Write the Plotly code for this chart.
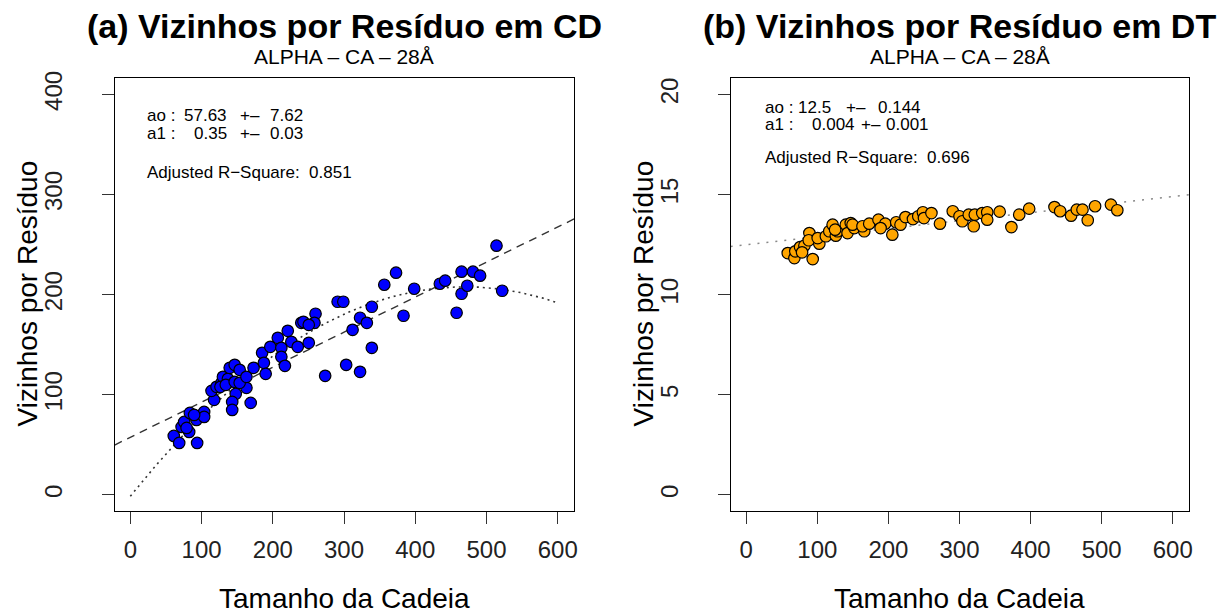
import numpy as np
import plotly.graph_objects as go

# ---------------- data ----------------
# Panel (a): neighbours per residue in CD vs chain length
chain_cd = [61, 68.6, 93.8, 82.6, 72, 75.6, 83.6, 92.9, 103.6, 103.6, 89.6, 79, 117.6, 114, 121,
            128, 130, 137, 126.5, 134, 139.5, 146.5, 153.5, 146.5, 148, 143, 143, 169, 163, 153.5,
            163, 173, 185, 187.5, 190, 196.5, 207, 212, 212, 217, 221, 226, 235, 240, 250.5, 243,
            260, 258.5, 250.5, 273.5, 291, 299, 303, 312, 322.5, 322.5, 332, 339, 339, 356.5, 373,
            383.5, 398.5, 434.5, 442, 458, 465, 465, 473, 481, 491, 514, 522]
neigh_cd = [59, 52, 52, 63, 68, 73, 82, 75, 83, 78, 80, 67, 95, 104, 108,
            112, 118, 116, 108, 110, 127, 130, 125, 113, 101, 93, 85, 92, 107, 112,
            118, 127, 142, 132, 121, 148, 157, 147, 138, 129, 164, 153, 148, 172, 152, 173,
            181, 172, 170, 119, 193, 193, 130, 165, 177, 123, 172, 147, 188, 210, 222,
            179, 206, 211, 214, 182, 223, 201, 209, 223, 219, 249, 204]

# Panel (b): neighbours per residue in DT vs chain length
chain_dt = [58.4, 67.7, 69, 75.7, 81.8, 78.5, 88.8, 93.5, 87.9, 102.8, 100.5, 112, 116.8, 121.5,
            126, 128.5, 125, 140, 142.5, 147, 152, 149.5, 166, 163.5, 173, 186, 195.5, 189, 205.5,
            211, 217, 224, 234.5, 242, 248.5, 250, 260.5, 272.5, 290.5, 300, 304, 313, 320, 321.5,
            332, 339, 339, 356.5, 373, 384, 398, 433.6, 441.6, 457, 465, 473, 480.4, 490.7, 513, 522]
neigh_dt = [12.08, 11.83, 12.17, 12.38, 12.45, 12.12, 13.08, 11.78, 12.72, 12.55, 12.83, 12.92, 13.17, 13.5,
            12.95, 13.17, 13.25, 13.5, 13.08, 13.58, 13.33, 13.5, 13.17, 13.42, 13.55, 13.75, 13.55, 13.33, 13.0,
            13.62, 13.5, 13.88, 13.78, 13.92, 14.12, 13.83, 14.08, 13.55, 14.17, 13.92, 13.67, 14.0, 13.42, 14.0,
            14.08, 14.12, 13.75, 14.15, 13.38, 14.0, 14.3, 14.38, 14.17, 13.95, 14.25, 14.25, 13.72, 14.42, 14.5, 14.22]

# fitted models
lin_cd = [57.63, 0.35]              # ao, a1 (dashed line, panel a)
quad_cd = [-1.2, 0.890, -0.000947]  # quadratic fit (dotted curve, panel a)
lin_dt = [12.5, 0.004]              # ao, a1 (dotted line, panel b)

x_ticks = [0, 100, 200, 300, 400, 500, 600]
y_ticks_cd = [0, 100, 200, 300, 400]
y_ticks_dt = [0, 5, 10, 15, 20]

# ---------------- layout geometry ----------------
OFFX, OFFY, SY = 8, 16.2, 0.986
W, H = 1218, 605
FONT = "Liberation Sans, Arial, Helvetica, sans-serif"
XR = [-22, 623]

def px(x):
    return (x - OFFX) / W

def py(y):
    return 1 - ((y - OFFY) / SY) / H

left_dom = [px(115), px(576)]
right_dom = [px(733), px(1193)]
y_dom = [py(511), py(79.5)]

fig = go.Figure()

# panel a fits
xl = np.linspace(XR[0], XR[1], 200)
fig.add_trace(go.Scatter(x=xl, y=lin_cd[0] + lin_cd[1] * xl, mode="lines",
                         line=dict(color="#333333", width=1.4, dash="8px,6px"),
                         xaxis="x", yaxis="y", hoverinfo="skip"))
xq = np.linspace(0, 600, 300)
fig.add_trace(go.Scatter(x=xq, y=quad_cd[0] + quad_cd[1] * xq + quad_cd[2] * xq ** 2, mode="lines",
                         line=dict(color="#333333", width=1.6, dash="2px,4px"),
                         xaxis="x", yaxis="y", hoverinfo="skip"))
fig.add_trace(go.Scatter(x=chain_cd, y=neigh_cd, mode="markers",
                         marker=dict(color="#0000FF", size=11.5, line=dict(color="black", width=1.2)),
                         xaxis="x", yaxis="y"))

# panel b fit
fig.add_trace(go.Scatter(x=xl, y=lin_dt[0] + lin_dt[1] * xl, mode="lines",
                         line=dict(color="#888888", width=1.5, dash="2px,7px"),
                         xaxis="x2", yaxis="y2", hoverinfo="skip"))
fig.add_trace(go.Scatter(x=chain_dt, y=neigh_dt, mode="markers",
                         marker=dict(color="#FFA500", size=11.5, line=dict(color="black", width=1.2)),
                         xaxis="x2", yaxis="y2"))

axis_common = dict(showgrid=False, zeroline=False, showline=True, linecolor="black", linewidth=1,
                   mirror=True, ticks="outside", ticklen=12, tickwidth=1, tickcolor="#333333",
                   tickfont=dict(family=FONT, size=24, color="#222222"))

fig.update_layout(
    width=W, height=H, showlegend=False,
    paper_bgcolor="white", plot_bgcolor="white",
    margin=dict(l=0, r=0, t=0, b=0),
    xaxis=dict(domain=left_dom, range=XR, tickvals=x_ticks, anchor="y", ticklabelstandoff=5,
               **axis_common),
    yaxis=dict(domain=y_dom, range=[-16, 416], tickvals=y_ticks_cd, tickangle=-90, anchor="x",
               ticklabelstandoff=30, **axis_common),
    xaxis2=dict(domain=right_dom, range=XR, tickvals=x_ticks, anchor="y2", ticklabelstandoff=5,
                **axis_common),
    yaxis2=dict(domain=y_dom, range=[-0.8, 20.8], tickvals=y_ticks_dt, tickangle=-90, anchor="x2",
                ticklabelstandoff=30, **axis_common),
)

ann = []

def text(x, y, s, size, bold=False, xanchor="center", angle=0, color="black"):
    ann.append(dict(xref="paper", yref="paper", x=px(x), y=py(y), text=(f"<b>{s}</b>" if bold else s),
                    showarrow=False, xanchor=xanchor, yanchor="middle", textangle=angle,
                    font=dict(family=FONT, size=size, color=color)))

# titles
text(345.5, 27, "(a) Vizinhos por Resíduo em CD", 34, bold=True)
text(345.5, 58, "ALPHA – CA – 28Å", 21)
text(963, 27, "(b) Vizinhos por Resíduo em DT", 34, bold=True)
text(963, 58, "ALPHA – CA – 28Å", 21)

# axis titles
text(345.5, 598, "Tamanho da Cadeia", 28)
text(963, 598, "Tamanho da Cadeia", 28)
text(28, 294, "Vizinhos por Resíduo", 28, angle=-90)
text(646, 294, "Vizinhos por Resíduo", 28, angle=-90)

# fit statistics, panel a
TS = 17
for x, s in [(145, "ao :"), (183, "57.63"), (238.5, "+–"), (269, "7.62")]:
    text(x, 116, s, TS, xanchor="left")
for x, s in [(145, "a1 :"), (193, "0.35"), (238.5, "+–"), (269, "0.03")]:
    text(x, 134, s, TS, xanchor="left")
text(145, 173, "Adjusted R−Square:  0.851", TS, xanchor="left")

# fit statistics, panel b
for x, s in [(765, "ao :"), (799, "12.5"), (846.5, "+–"), (879, "0.144")]:
    text(x, 108, s, TS, xanchor="left")
for x, s in [(765, "a1 :"), (812.5, "0.004"), (862, "+–"), (887, "0.001")]:
    text(x, 125, s, TS, xanchor="left")
text(765, 158, "Adjusted R−Square:  0.696", TS, xanchor="left")

fig.update_layout(annotations=ann)
fig.write_html("out.html")
